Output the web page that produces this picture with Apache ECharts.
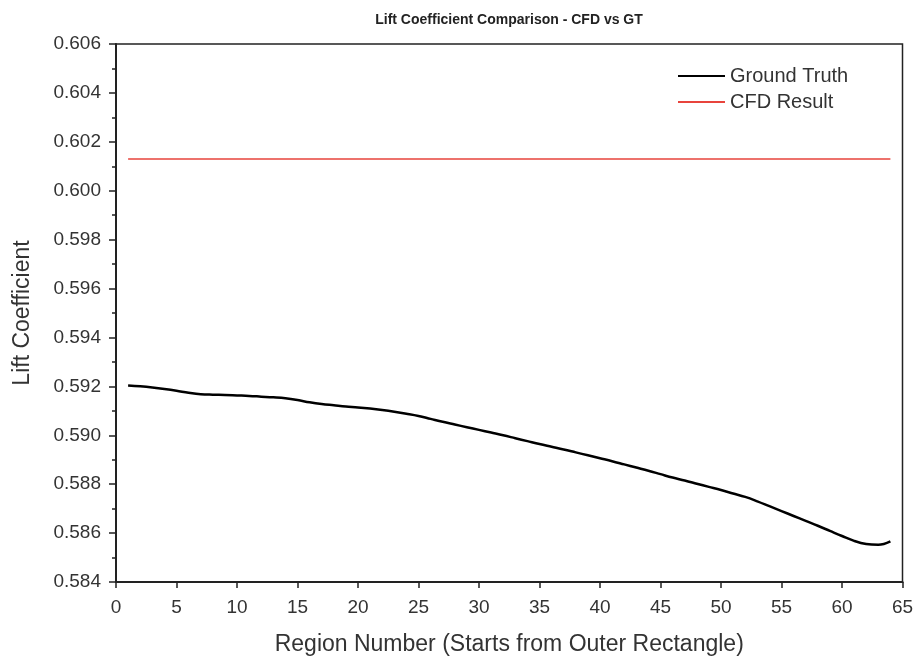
<!DOCTYPE html>
<html>
<head>
<meta charset="utf-8">
<script src="https://cdn.jsdelivr.net/npm/echarts@6/dist/echarts.min.js"></script>
<style>
  html, body { margin: 0; padding: 0; background: #fff; }
  #chart { width: 918px; height: 664px; }
</style>
</head>
<body>
<div id="chart"></div>
<script>
// Region index (1 = outer rectangle)
const regions = [];
for (let i = 1; i <= 64; i++) regions.push(i);

// Ground-truth lift coefficient per region
const groundTruth = [
  0.59204, 0.59200, 0.59195, 0.59189, 0.59182, 0.59174, 0.59168, 0.59166,
  0.59165, 0.59163, 0.59161, 0.59158, 0.59155, 0.59151, 0.59144, 0.59135,
  0.59128, 0.59123, 0.59118, 0.59114, 0.59109, 0.59103, 0.59096, 0.59088,
  0.59079, 0.59067, 0.59055, 0.59044, 0.59033, 0.59022, 0.59011, 0.59000,
  0.58988, 0.58976, 0.58964, 0.58953, 0.58942, 0.58930, 0.58918, 0.58906,
  0.58894, 0.58881, 0.58868, 0.58855, 0.58841, 0.58827, 0.58815, 0.58802,
  0.58789, 0.58776, 0.58762, 0.58748, 0.58730, 0.58710, 0.58690, 0.58670,
  0.58650, 0.58630, 0.58609, 0.58588, 0.58568, 0.58555, 0.58552, 0.58566
];

// CFD result is a single value applied across all regions
const cfdValue = 0.6013;
const cfdResult = regions.map(() => cfdValue);

const xTicks = { min: 0, max: 65, interval: 5 };
const yTicks = { min: 0.584, max: 0.606, interval: 0.002 };

const axisColor = '#222';
const textColor = '#333';
const font = 'Liberation Sans, Arial, sans-serif';

const chart = echarts.init(document.getElementById('chart'), null, { renderer: 'canvas' });

chart.setOption({
  backgroundColor: '#fff',
  animation: false,
  title: {
    text: 'Lift Coefficient Comparison - CFD vs GT',
    left: 504,
    textAlign: 'center',
    top: 8,
    textStyle: { fontFamily: font, fontWeight: 'bold', fontSize: 14, color: '#222' }
  },
  legend: {
    data: ['Ground Truth', 'CFD Result'],
    orient: 'vertical',
    left: 673,
    top: 61,
    itemWidth: 47,
    itemHeight: 2,
    itemGap: 6,
    icon: 'rect',
    textStyle: { fontFamily: font, fontSize: 20, color: textColor }
  },
  grid: {
    left: 116,
    right: 15.5,
    top: 44,
    bottom: 82,
    show: true,
    borderColor: axisColor,
    borderWidth: 1.5,
    containLabel: false
  },
  xAxis: {
    type: 'value',
    min: xTicks.min,
    max: xTicks.max,
    interval: xTicks.interval,
    name: 'Region Number (Starts from Outer Rectangle)',
    nameLocation: 'middle',
    nameGap: 51,
    nameTextStyle: { fontFamily: font, fontSize: 23, color: textColor },
    axisLine: { lineStyle: { color: axisColor, width: 2 } },
    axisTick: { inside: false, length: 6, lineStyle: { color: axisColor, width: 1.5 } },
    axisLabel: { fontFamily: font, fontSize: 19, color: textColor, margin: 16 },
    splitLine: { show: false }
  },
  yAxis: {
    type: 'value',
    min: yTicks.min,
    max: yTicks.max,
    interval: yTicks.interval,
    name: 'Lift Coefficient',
    nameLocation: 'middle',
    nameGap: 82,
    nameTextStyle: { fontFamily: font, fontSize: 23, color: textColor },
    axisLine: { show: true, lineStyle: { color: axisColor, width: 2 } },
    axisTick: { inside: false, length: 7, lineStyle: { color: axisColor, width: 1.5 } },
    minorTick: { show: true, splitNumber: 2, length: 4, lineStyle: { color: axisColor, width: 1.5 } },
    axisLabel: {
      fontFamily: font, fontSize: 19, color: textColor, margin: 15,
      formatter: v => v.toFixed(3)
    },
    splitLine: { show: false }
  },
  series: [
    {
      name: 'Ground Truth',
      type: 'line',
      data: regions.map((r, i) => [r, groundTruth[i]]),
      smooth: 0.4,
      showSymbol: false,
      symbol: 'none',
      color: '#000',
      lineStyle: { color: '#000', width: 2.5 }
    },
    {
      name: 'CFD Result',
      type: 'line',
      data: regions.map((r, i) => [r, cfdResult[i]]),
      showSymbol: false,
      symbol: 'none',
      color: '#e8443c',
      lineStyle: { color: '#e8443c', width: 1.6 }
    }
  ]
});
</script>
</body>
</html>
